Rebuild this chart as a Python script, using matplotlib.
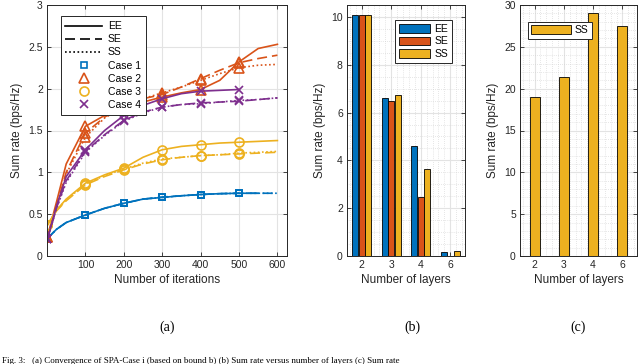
import numpy as np
import matplotlib.pyplot as plt
from matplotlib.lines import Line2D
from matplotlib.ticker import MultipleLocator

plt.rcParams['font.family'] = ['Liberation Sans', 'DejaVu Sans']

# ---- (a) convergence data ----
iters = [1, 25, 50, 100, 150, 200, 250, 300, 350, 400, 450, 500, 550, 600]
mark_idx = [0, 3, 5, 7, 9, 11]

case1_ee = [0.21, 0.32, 0.40, 0.49, 0.57, 0.63, 0.68, 0.70, 0.72, 0.735, 0.745, 0.75, 0.75]
case1_se = [0.21, 0.32, 0.40, 0.49, 0.57, 0.63, 0.68, 0.705, 0.72, 0.735, 0.745, 0.75, 0.75, 0.75]
case1_ss = [0.21, 0.32, 0.40, 0.49, 0.57, 0.63, 0.68, 0.70, 0.72, 0.735, 0.745, 0.75, 0.75, 0.75]

case2_ee = [0.23, 0.65, 1.10, 1.55, 1.68, 1.76, 1.84, 1.90, 1.95, 1.99, 2.10, 2.32, 2.48, 2.53]
case2_se = [0.23, 0.60, 1.00, 1.47, 1.66, 1.80, 1.88, 1.93, 2.02, 2.12, 2.22, 2.31, 2.36, 2.40]
case2_ss = [0.23, 0.58, 0.98, 1.42, 1.65, 1.78, 1.88, 1.95, 2.02, 2.10, 2.18, 2.25, 2.28, 2.29]

case3_ee = [0.37, 0.55, 0.68, 0.87, 0.97, 1.05, 1.18, 1.27, 1.31, 1.33, 1.35, 1.36, 1.37, 1.38]
case3_se = [0.37, 0.54, 0.66, 0.85, 0.95, 1.03, 1.10, 1.15, 1.18, 1.20, 1.21, 1.22, 1.23, 1.24]
case3_ss = [0.37, 0.55, 0.67, 0.86, 0.96, 1.04, 1.11, 1.16, 1.18, 1.20, 1.21, 1.23, 1.24, 1.25]

case4_ee = [0.20, 0.60, 0.95, 1.27, 1.50, 1.68, 1.80, 1.88, 1.94, 1.97, 1.98, 1.99]
case4_se = [0.20, 0.58, 0.90, 1.25, 1.45, 1.62, 1.72, 1.78, 1.81, 1.83, 1.84, 1.85, 1.87, 1.89]
case4_ss = [0.20, 0.57, 0.88, 1.24, 1.44, 1.61, 1.71, 1.78, 1.81, 1.82, 1.84, 1.86, 1.87, 1.89]

# ---- (b) bars ----
layers = ['2', '3', '4', '6']
bar_ee = [10.1, 6.6, 4.6, 0.15]
bar_se = [10.1, 6.5, 2.45, 0.02]
bar_ss = [10.1, 6.75, 3.65, 0.2]

# ---- (c) bars ----
bar_ss_c = [19.05, 21.4, 29.1, 27.5]

blue = '#0072BD'
orange = '#D95319'
yellow = '#EDB120'
purple = '#7E2F8E'
axc = '#262626'

W, H = 640, 364
fig = plt.figure(figsize=(6.4, 3.64), dpi=100)


def px_axes(l, r, t, b):
    return fig.add_axes([l / W, (H - b) / H, (r - l) / W, (b - t) / H])


def style(ax):
    ax.tick_params(direction='in', length=3, width=0.6, colors=axc, labelsize=7.5,
                   top=True, right=True, pad=3)
    ax.tick_params(which='minor', length=0, top=True, right=True)
    for s in ax.spines.values():
        s.set_color(axc)
        s.set_linewidth(0.7)


# (a)
ax1 = px_axes(47, 287, 5, 256)
cases = [
    (case1_ee, case1_se, case1_ss, blue, 's', 4.5),
    (case2_ee, case2_se, case2_ss, orange, '^', 7),
    (case3_ee, case3_se, case3_ss, yellow, 'o', 6.5),
    (case4_ee, case4_se, case4_ss, purple, 'x', 5.5),
]
for ee, se, ss, col, mk, ms in cases:
    for vals, ls in [(ee, '-'), (se, (0, (6, 3))), (ss, (0, (1, 1.5)))]:
        n = len(vals)
        ax1.plot(iters[:n], vals, color=col, ls=ls, lw=1.2, marker=mk, ms=ms,
                 mfc='none', mec=col, mew=1.2,
                 markevery=[i for i in mark_idx if i < n])
ax1.set_xlim(0, 625)
ax1.set_ylim(0, 3)
ax1.set_xticks([100, 200, 300, 400, 500, 600])
ax1.set_yticks([0, 0.5, 1, 1.5, 2, 2.5, 3])
ax1.set_yticklabels(['0', '0.5', '1', '1.5', '2', '2.5', '3'])
ax1.grid(True, color='#e3e3e3', lw=0.8)
ax1.set_axisbelow(True)
ax1.set_xlabel('Number of iterations', fontsize=8.5, color=axc, labelpad=3)
ax1.set_ylabel('Sum rate (bps/Hz)', fontsize=8.5, color=axc, labelpad=4)
style(ax1)

handles = [
    Line2D([], [], color='k', lw=1.2, ls='-'),
    Line2D([], [], color='k', lw=1.2, ls=(0, (6, 3))),
    Line2D([], [], color='k', lw=1.2, ls=(0, (1, 1.5))),
    Line2D([], [], color=blue, ls='none', marker='s', ms=4.5, mfc='none', mew=1.2),
    Line2D([], [], color=orange, ls='none', marker='^', ms=7, mfc='none', mew=1.2),
    Line2D([], [], color=yellow, ls='none', marker='o', ms=6.5, mfc='none', mew=1.2),
    Line2D([], [], color=purple, ls='none', marker='x', ms=5.5, mfc='none', mew=1.2),
]
leg1 = ax1.legend(handles, ['EE', 'SE', 'SS', 'Case 1', 'Case 2', 'Case 3', 'Case 4'],
                  loc='upper left', bbox_to_anchor=(0.035, 0.975), fontsize=7.5,
                  handlelength=3.5, handletextpad=0.6, labelspacing=0.3,
                  borderpad=0.45, fancybox=False, edgecolor=axc, framealpha=1)
leg1.get_frame().set_linewidth(0.7)


def bar_grid(ax, ystep):
    ax.yaxis.set_minor_locator(MultipleLocator(ystep))
    ax.xaxis.set_minor_locator(MultipleLocator(0.2))
    ax.grid(True, which='major', color='#e3e3e3', lw=0.8)
    ax.grid(True, which='minor', color='#cfcfcf', lw=0.5, ls=(0, (1, 2)))
    ax.set_axisbelow(True)


# (b)
ax2 = px_axes(347, 465, 5, 256)
pos = np.arange(1, len(layers) + 1)
bw = 0.19
for off, vals, col, lab in [(-0.22, bar_ee, blue, 'EE'), (0, bar_se, orange, 'SE'),
                            (0.22, bar_ss, yellow, 'SS')]:
    ax2.bar(pos + off, vals, width=bw, color=col, edgecolor='k', lw=0.6, label=lab)
ax2.set_xlim(0.5, 4.5)
ax2.set_ylim(0, 10.5)
ax2.set_xticks(pos)
ax2.set_xticklabels(layers)
ax2.set_yticks([0, 2, 4, 6, 8, 10])
bar_grid(ax2, 0.5)
ax2.set_xlabel('Number of layers', fontsize=8.5, color=axc, labelpad=3)
ax2.set_ylabel('Sum rate (bps/Hz)', fontsize=8.5, color=axc, labelpad=4)
style(ax2)
leg2 = ax2.legend(loc='upper right', bbox_to_anchor=(0.93, 0.96), fontsize=7.5,
                  handlelength=3.0, handleheight=0.9, handletextpad=0.4,
                  labelspacing=0.25, borderpad=0.35, fancybox=False,
                  edgecolor=axc, framealpha=1)
leg2.get_frame().set_linewidth(0.7)

# (c)
ax3 = px_axes(520, 637, 5, 256)
ax3.bar(pos, bar_ss_c, width=0.34, color=yellow, edgecolor='k', lw=0.6, label='SS')
ax3.set_xlim(0.5, 4.5)
ax3.set_ylim(0, 30)
ax3.set_xticks(pos)
ax3.set_xticklabels(layers)
ax3.set_yticks([0, 5, 10, 15, 20, 25, 30])
bar_grid(ax3, 1)
ax3.set_xlabel('Number of layers', fontsize=8.5, color=axc, labelpad=3)
ax3.set_ylabel('Sum rate (bps/Hz)', fontsize=8.5, color=axc, labelpad=4)
style(ax3)
leg3 = ax3.legend(loc='upper left', bbox_to_anchor=(0.02, 0.955), fontsize=7.5,
                  handlelength=3.8, handleheight=0.9, handletextpad=0.4,
                  borderpad=0.35, fancybox=False, edgecolor=axc, framealpha=1)
leg3.get_frame().set_linewidth(0.7)

# sub-captions
for x, t in [(167, '(a)'), (412, '(b)'), (578, '(c)')]:
    fig.text(x / W, 1 - 327 / H, t, ha='center', va='center', fontsize=10,
             family='Liberation Serif')
fig.text(2 / W, 1 - 363 / H,
         'Fig. 3:   (a) Convergence of SPA-Case i (based on bound b) (b) Sum rate versus number of layers (c) Sum rate',
         ha='left', va='baseline', fontsize=6.5, family='Liberation Serif')

fig.savefig('out.png', dpi=100)
